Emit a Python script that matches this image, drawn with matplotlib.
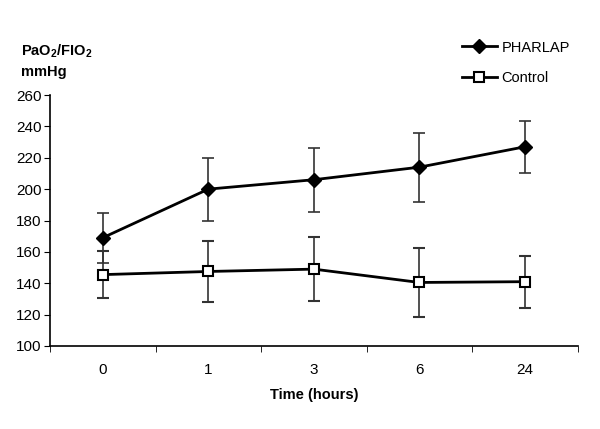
import numpy as np
import matplotlib
matplotlib.use('Agg')
import matplotlib.pyplot as plt
from matplotlib.lines import Line2D

plt.rcParams['font.family'] = ['Liberation Sans', 'DejaVu Sans']
plt.rcParams['mathtext.fontset'] = 'custom'
plt.rcParams['mathtext.rm'] = 'Liberation Sans'
plt.rcParams['mathtext.bf'] = 'Liberation Sans:bold'

times = ['0', '1', '3', '6', '24']
pharlap = [169, 200, 206, 214, 227]
pharlap_err = [16, 20, 20.5, 22, 16.5]
control = [145.5, 147.5, 149, 140.5, 141]
control_err = [15, 19.5, 20.5, 22, 16.5]

fig = plt.figure(figsize=(6, 4.29), dpi=100)
ax = fig.add_axes([0.0833, 0.1935, 0.8795, 0.585])

x = np.arange(len(times))
ax.errorbar(x, pharlap, yerr=pharlap_err, color='black', lw=2, marker='D', ms=7,
            mfc='black', mec='black', ecolor='#333333', elinewidth=1.2, capsize=4,
            capthick=1.2, zorder=3)
ax.errorbar(x, control, yerr=control_err, color='black', lw=2, marker='s', ms=7,
            mfc='white', mec='black', mew=1.5, ecolor='#333333', elinewidth=1.2,
            capsize=4, capthick=1.2, zorder=3)

ax.set_xlim(-0.5, len(times) - 0.5)
ax.set_ylim(100, 260)
ax.set_yticks(np.arange(100, 261, 20))
ax.set_xticks(x)
ax.set_xticklabels(times)
ax.set_xticks(np.arange(-0.5, len(times), 1), minor=True)
ax.tick_params(axis='x', which='major', length=0, pad=12, labelsize=11)
ax.tick_params(axis='x', which='minor', length=4, direction='out')
ax.tick_params(axis='y', length=4, direction='out', labelsize=11, pad=2)

for s in ['top', 'right']:
    ax.spines[s].set_visible(False)
for s in ['left', 'bottom']:
    ax.spines[s].set_linewidth(1.2)

ax.set_xlabel('Time (hours)', fontweight='bold', fontsize=10.5, labelpad=8)
fig.text(0.035, 0.859, 'PaO$_\\mathbf{2}$/FIO$_\\mathbf{2}$\nmmHg', fontweight='bold',
         fontsize=10.5, va='center', ha='left', linespacing=1.5)

handles = [
    Line2D([], [], color='black', lw=2, marker='D', ms=7, mfc='black', mec='black'),
    Line2D([], [], color='black', lw=2, marker='s', ms=7, mfc='white', mec='black', mew=1.5),
]
fig.legend(handles, ['PHARLAP', 'Control'], loc='upper left',
           bbox_to_anchor=(0.748, 0.936), frameon=False, fontsize=10.5,
           handlelength=2.4, handletextpad=0.3, labelspacing=1.1)

fig.savefig('out.png', dpi=100)
